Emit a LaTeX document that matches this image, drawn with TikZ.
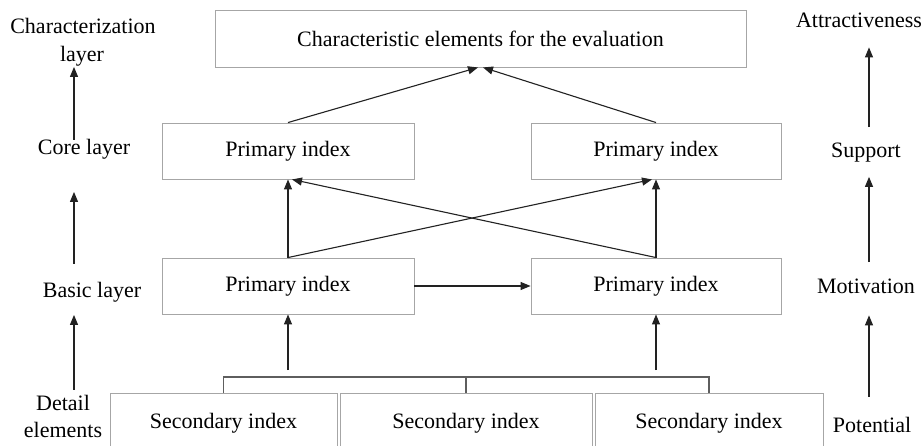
\documentclass[tikz,border=0pt]{standalone}
\usepackage{fontspec}
\setmainfont{Liberation Serif}
\usetikzlibrary{arrows.meta}
\definecolor{boxgray}{HTML}{A6A6A6}
\definecolor{linegray}{HTML}{222222}
\definecolor{brkgray}{HTML}{5E5E5E}
\begin{document}
\begin{tikzpicture}[x=1pt,y=-1pt,
  every node/.style={font=\fontsize{22}{26}\selectfont},
  boxnode/.style={draw=boxgray, line width=0.9pt, inner sep=0pt, minimum height=56pt},
  lbl/.style={inner sep=0pt, anchor=base},
  arr/.style={draw=linegray, line width=1.1pt, -{Triangle[length=10pt,width=8pt]}},
  brk/.style={draw=brkgray, line width=1.6pt}
]
\path[use as bounding box] (0,0) rectangle (923,446);
\fill[white] (0,0) rectangle (923,446);

% boxes
\node[boxnode, minimum width=531pt, minimum height=57pt] (top) at (480.5,38.5) {Characteristic elements for the evaluation};
\node[boxnode, minimum width=252pt] (coreL) at (288,151) {Primary index};
\node[boxnode, minimum width=250pt] (coreR) at (656,151) {Primary index};
\node[boxnode, minimum width=252pt] (basicL) at (288,286) {Primary index};
\node[boxnode, minimum width=250pt] (basicR) at (656,286) {Primary index};
\node[boxnode, minimum width=227pt, minimum height=60pt] (sec1) at (223.5,423) {Secondary index};
\node[boxnode, minimum width=252pt, minimum height=60pt] (sec2) at (466,423) {Secondary index};
\node[boxnode, minimum width=228pt, minimum height=60pt] (sec3) at (709,423) {Secondary index};

% left labels
\node[lbl] (char1) at (83,34) {Characterization};
\node[lbl] (char2) at (82,62) {layer};
\node[lbl] (corelbl) at (84,155) {Core layer};
\node[lbl] (basiclbl) at (92,297) {Basic layer};
\node[lbl] (det1) at (63,410) {Detail};
\node[lbl] (det2) at (63,437) {elements};

% right labels
\node[lbl] (attr) at (859,28) {Attractiveness};
\node[lbl] (supp) at (866,158) {Support};
\node[lbl] (moti) at (866,293) {Motivation};
\node[lbl] (pote) at (872,432) {Potential};

\coordinate (lx) at (74,0);
\coordinate (rx) at (869,0);
\coordinate (brky) at (0,377);
\coordinate (arry) at (0,370);

% left arrows
\draw[arr] (corelbl.north -| lx) -- (char2.south -| lx);
\draw[arr, shorten <=18pt, shorten >=32pt] (basiclbl.north -| lx) -- (corelbl.south -| lx);
\draw[arr, shorten <=5pt, shorten >=13pt] (det1.north -| lx) -- (basiclbl.south -| lx);

% right arrows
\draw[arr, shorten <=16pt, shorten >=19pt] (supp.north -| rx) -- (attr.south -| rx);
\draw[arr, shorten <=16pt, shorten >=14pt] (moti.north -| rx) -- (supp.south -| rx);
\draw[arr, shorten <=20pt, shorten >=22pt] (pote.north -| rx) -- (moti.south -| rx);

% core to top
\draw[arr] (coreL.north) -- ([xshift=-2.5pt]top.south);
\draw[arr] (coreR.north) -- ([xshift=2.5pt]top.south);

% basic to core
\draw[arr] (basicL.north) -- (coreL.south);
\draw[arr] (basicR.north) -- (coreR.south);
\draw[arr] (basicL.north) -- ([xshift=-4pt]coreR.south);
\draw[arr] (basicR.north) -- ([xshift=4pt]coreL.south);
\draw[arr] (basicL.east) -- (basicR.west);

% bracket
\draw[brk] (sec1.north) -- (sec1.north |- brky) -- (sec3.north |- brky) -- (sec3.north);
\draw[brk] (sec2.north) -- (sec2.north |- brky);
\draw[arr] (basicL.south |- arry) -- (basicL.south);
\draw[arr] (basicR.south |- arry) -- (basicR.south);
\end{tikzpicture}
\end{document}
